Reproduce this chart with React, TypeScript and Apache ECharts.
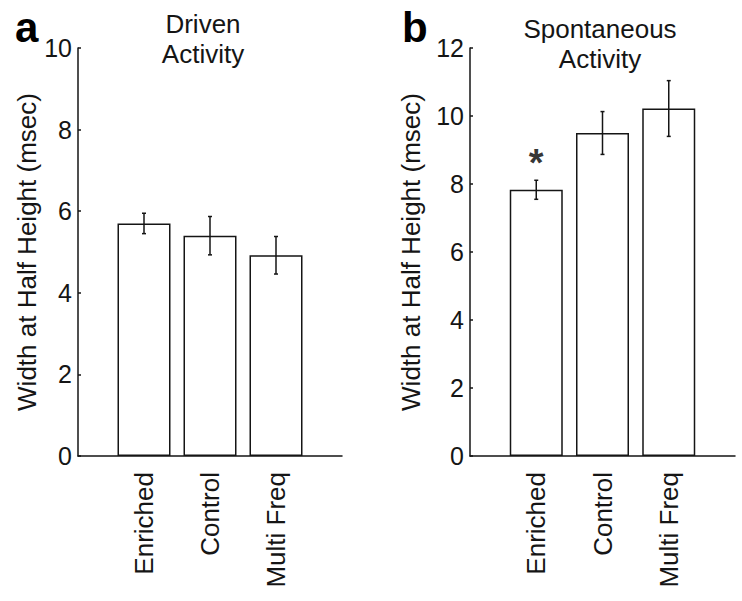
import React, { useEffect, useRef } from "react";
import * as echarts from "echarts";

const categories = ["Enriched", "Control", "Multi Freq"];
const positions = [1, 2, 3];
const drivenMeans = [5.7, 5.4, 4.92];
const drivenErr = [0.25, 0.47, 0.46];
const spontMeans = [7.83, 9.5, 10.22];
const spontErr = [0.28, 0.63, 0.82];
const drivenTicks = [0, 2, 4, 6, 8, 10];
const spontTicks = [0, 2, 4, 6, 8, 10, 12];
const starPos = [1, 8.85];

const FONT = "'Liberation Sans', Arial, sans-serif";
const INK = "#151515";

export default function App() {
  const ref = useRef<HTMLDivElement>(null);
  useEffect(() => {
    if (!ref.current) return;
    const chart = echarts.init(ref.current, undefined, { renderer: "svg" });
    const labelFor = (v: number) => {
      const i = positions.indexOf(v);
      return i >= 0 ? categories[i] : "";
    };
    const mkX = (gi: number) => ({
      type: "value",
      gridIndex: gi,
      min: 0,
      max: 4,
      interval: 1,
      splitLine: { show: false },
      axisTick: { show: false },
      axisLine: { lineStyle: { color: INK, width: 1.5 } },
      axisLabel: {
        rotate: 90,
        margin: 16,
        fontSize: 26,
        color: INK,
        fontFamily: FONT,
        formatter: (v: number) => labelFor(v),
      },
    });
    const mkY = (gi: number, ticks: number[], gap: number) => ({
      type: "value",
      gridIndex: gi,
      min: ticks[0],
      max: ticks[ticks.length - 1],
      interval: ticks[1] - ticks[0],
      name: "Width at Half Height (msec)",
      nameLocation: "middle",
      nameGap: gap,
      nameTextStyle: { fontSize: 26, color: INK, fontFamily: FONT },
      splitLine: { show: false },
      axisLine: { show: true, lineStyle: { color: INK, width: 1.5 } },
      axisTick: { show: true, inside: true, length: 3, lineStyle: { color: INK, width: 1.5 } },
      axisLabel: { fontSize: 25, color: INK, fontFamily: FONT, margin: 6 },
    });
    const errRender = (params: any, api: any) => {
      const x = api.value(0);
      const y = api.value(1);
      const e = api.value(2);
      const t = api.coord([x, y + e]);
      const b = api.coord([x, y - e]);
      const st = { stroke: INK, lineWidth: 1.5 };
      return {
        type: "group",
        children: [
          { type: "line", shape: { x1: t[0], y1: t[1], x2: b[0], y2: b[1] }, style: st },
          { type: "line", shape: { x1: t[0] - 2, y1: t[1], x2: t[0] + 2, y2: t[1] }, style: st },
          { type: "line", shape: { x1: b[0] - 2, y1: b[1], x2: b[0] + 2, y2: b[1] }, style: st },
        ],
      };
    };
    const barStyle = { color: "#ffffff", borderColor: INK, borderWidth: 1.5 };
    chart.setOption({
      animation: false,
      backgroundColor: "#ffffff",
      grid: [
        { left: 78, top: 48, width: 264, height: 408 },
        { left: 470, top: 48, width: 265, height: 408 },
      ],
      xAxis: [mkX(0), mkX(1)],
      yAxis: [mkY(0, drivenTicks, 36), mkY(1, spontTicks, 46)],
      graphic: [
        { type: "text", left: 15, top: 6, style: { text: "a", font: `bold 42px ${FONT}`, fill: "#000" } },
        { type: "text", left: 402, top: 6, style: { text: "b", font: `bold 42px ${FONT}`, fill: "#000" } },
        {
          type: "text",
          x: 203,
          y: 9,
          style: { text: "Driven\nActivity", font: `26px ${FONT}`, fill: INK, textAlign: "center", textVerticalAlign: "top", lineHeight: 30 },
        },
        {
          type: "text",
          x: 600,
          y: 14,
          style: { text: "Spontaneous\nActivity", font: `26px ${FONT}`, fill: INK, textAlign: "center", textVerticalAlign: "top", lineHeight: 30 },
        },
      ],
      series: [
        {
          type: "bar",
          xAxisIndex: 0,
          yAxisIndex: 0,
          barWidth: 53,
          itemStyle: barStyle,
          data: positions.map((p, i) => [p, drivenMeans[i]]),
        },
        {
          type: "custom",
          xAxisIndex: 0,
          yAxisIndex: 0,
          z: 5,
          renderItem: errRender,
          encode: { x: 0, y: 1 },
          data: positions.map((p, i) => [p, drivenMeans[i], drivenErr[i]]),
        },
        {
          type: "bar",
          xAxisIndex: 1,
          yAxisIndex: 1,
          barWidth: 53,
          itemStyle: barStyle,
          data: positions.map((p, i) => [p, spontMeans[i]]),
        },
        {
          type: "custom",
          xAxisIndex: 1,
          yAxisIndex: 1,
          z: 5,
          renderItem: errRender,
          encode: { x: 0, y: 1 },
          data: positions.map((p, i) => [p, spontMeans[i], spontErr[i]]),
        },
        {
          type: "scatter",
          xAxisIndex: 1,
          yAxisIndex: 1,
          symbolSize: 0,
          data: [starPos],
          label: {
            show: true,
            position: "inside",
            formatter: "*",
            fontSize: 38,
            fontWeight: "bold",
            color: "#000",
            fontFamily: FONT,
            offset: [0, 8],
          },
        },
      ],
    });
    return () => chart.dispose();
  }, []);
  return (
    <div
      ref={ref}
      style={{ position: "fixed", left: 0, top: 0, width: 742, height: 601, background: "#fff" }}
    />
  );
}
